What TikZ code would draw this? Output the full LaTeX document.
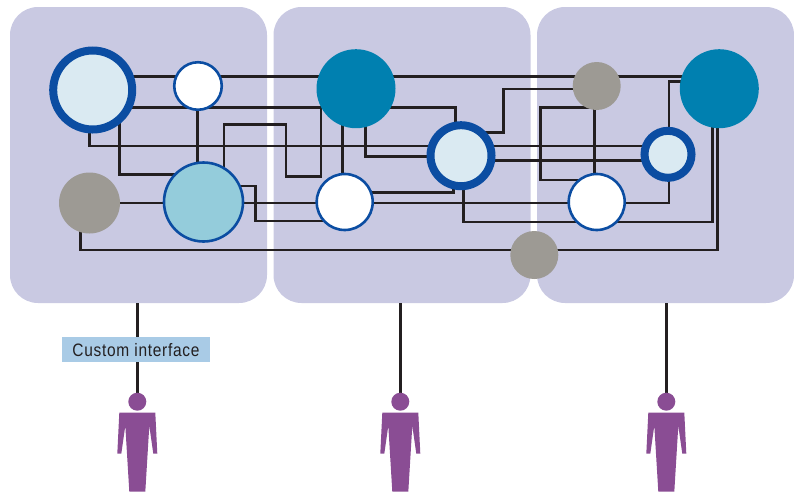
\documentclass[tikz,border=0pt]{standalone}
\usepackage{fontspec}
\setmainfont{Liberation Sans}
\newfontfamily\narrowfont[FakeStretch=0.86,LetterSpace=4]{Liberation Sans}
\pgfdeclarelayer{panels}
\pgfdeclarelayer{wires}
\pgfsetlayers{panels,wires,main}
\definecolor{panelc}{HTML}{C9C9E2}
\definecolor{ringc}{HTML}{0B4DA2}
\definecolor{palec}{HTML}{DAEAF2}
\definecolor{greyc}{HTML}{9D9A94}
\definecolor{skyc}{HTML}{94CCDB}
\definecolor{tealc}{HTML}{0080B0}
\definecolor{userc}{HTML}{8A4D94}
\definecolor{labelc}{HTML}{A9CBE6}
\definecolor{wirec}{HTML}{231F20}
\tikzset{
    panel/.style={fill=panelc,rounded corners=28,minimum width=257,minimum height=296,inner sep=0},
    ball/.style={circle,inner sep=0,minimum size=#1},
    ring/.style={ball=#1,draw=ringc,fill=palec,line width=8},
    thin ring/.style={ball=#1,draw=ringc,fill=white,line width=2.6},
    wire/.style={draw=wirec,line width=2.9,line join=miter},
    person/.pic={
        \node[ball=18,fill=userc] (-head) at (0,0) {};
        \fill[userc] (-18,11) -- (18,11) -- (20,52) -- (16,52) -- (12,24) -- (8,90)
            -- (-8,90) -- (-12,24) -- (-16,52) -- (-20,52) -- cycle;
    }
}
\begin{document}
\begin{tikzpicture}[x=1pt,y=-1pt]
    \useasboundingbox (0,0) rectangle (794,491);
    \begin{pgfonlayer}{panels}
        \node[panel] at (138.5,155) (pnlA) {};
        \node[panel] at (402,155) (pnlB) {};
        \node[panel] at (665.5,155) (pnlC) {};
    \end{pgfonlayer}

    \node[ring=79] at (92.7,90) (bigA) {};
    \node[thin ring=47.5] at (198,86) (whtA) {};
    \node[ball=61,fill=greyc] at (89.5,203) (gryA) {};
    \node[thin ring=79,fill=skyc] at (203.5,202) (skyA) {};
    \node[ball=79,fill=tealc] at (356,88.7) (telB) {};
    \node[ring=61] at (461,155.7) (ringB) {};
    \node[thin ring=56] at (344.7,202) (whtB) {};
    \node[ball=48,fill=greyc] at (534.3,255) (gryB) {};
    \node[ball=48,fill=greyc] at (596.7,86) (gryC) {};
    \node[ball=79,fill=tealc] at (719.3,88.7) (telC) {};
    \node[ring=47] at (668,154.3) (ringC) {};
    \node[thin ring=56] at (596.7,202) (whtC) {};

    \pic at (137.3,401.7) (usrA) {person};
    \pic at (400.3,401.7) (usrB) {person};
    \pic at (666.3,401.7) (usrC) {person};

    \node[fill=labelc,minimum width=148,minimum height=25.5,inner sep=0,text=wirec]
        at (136,349.7) (lblA) {\fontsize{18}{20}\narrowfont Custom interface};

    \begin{pgfonlayer}{wires}
        \draw[wire] (usrA-head |- pnlA.south) -- (usrA-head);
        \draw[wire] (usrB-head |- pnlB.south) -- (usrB-head);
        \draw[wire] (usrC-head |- pnlC.south) -- (usrC-head);

        % left panel
        \draw[wire] (bigA |- 0,76.5) -- (telC |- 0,76.5);
        \draw[wire] (bigA |- 0,107.5) -- (321,107.5) -- (321,176.7) -- (286,176.7)
            -- (286,124.7) -- (224,124.7) -- (skyA -| 224,0);
        \draw[wire] (bigA -| 89.3,0) -- (89.3,146) -- (ringC |- 0,146);
        \draw[wire] (bigA -| 119.5,0) -- (119.5,174.7) -- (skyA |- 0,174.7);
        \draw[wire] (whtA -| 197.5,0) -- (skyA -| 197.5,0);
        \draw[wire] (gryA) -- (gryA -| 669,0) -- (ringC -| 669,0);
        \draw[wire] (skyA |- 0,186) -- (255.7,186) -- (255.7,221) -- (whtB |- 0,221);
        \draw[wire] (gryA -| 80.7,0) -- (80.7,250) -- (717.3,250) -- (telC -| 717.3,0);

        % middle panel
        \draw[wire] (telB |- 0,107.7) -- (455.3,107.7) -- (ringB -| 455.3,0);
        \draw[wire] (telB -| 342.3,0) -- (whtB -| 342.3,0);
        \draw[wire] (telB -| 365.3,0) -- (365.3,156.7) -- (ringB |- 0,156.7);
        \draw[wire] (whtB |- 0,192.7) -- (453.3,192.7) -- (ringB -| 453.3,0);
        \draw[wire] (ringB |- 0,132.7) -- (503.3,132.7) -- (503.3,89) -- (gryC |- 0,89);
        \draw[wire] (ringB |- 0,160.7) -- (ringC |- 0,160.7);
        \draw[wire] (ringB -| 463.3,0) -- (463.3,222) -- (712.3,222) -- (telC -| 712.3,0);

        % right panel
        \draw[wire] (gryC -| 594.7,0) -- (whtC -| 594.7,0);
        \draw[wire] (gryC |- 0,107.3) -- (540.7,107.3) -- (540.7,180) -- (whtC |- 0,180);
        \draw[wire] (ringC -| 669,0) -- (669,81.3) -- (telC |- 0,81.3);
    \end{pgfonlayer}
\end{tikzpicture}
\end{document}
